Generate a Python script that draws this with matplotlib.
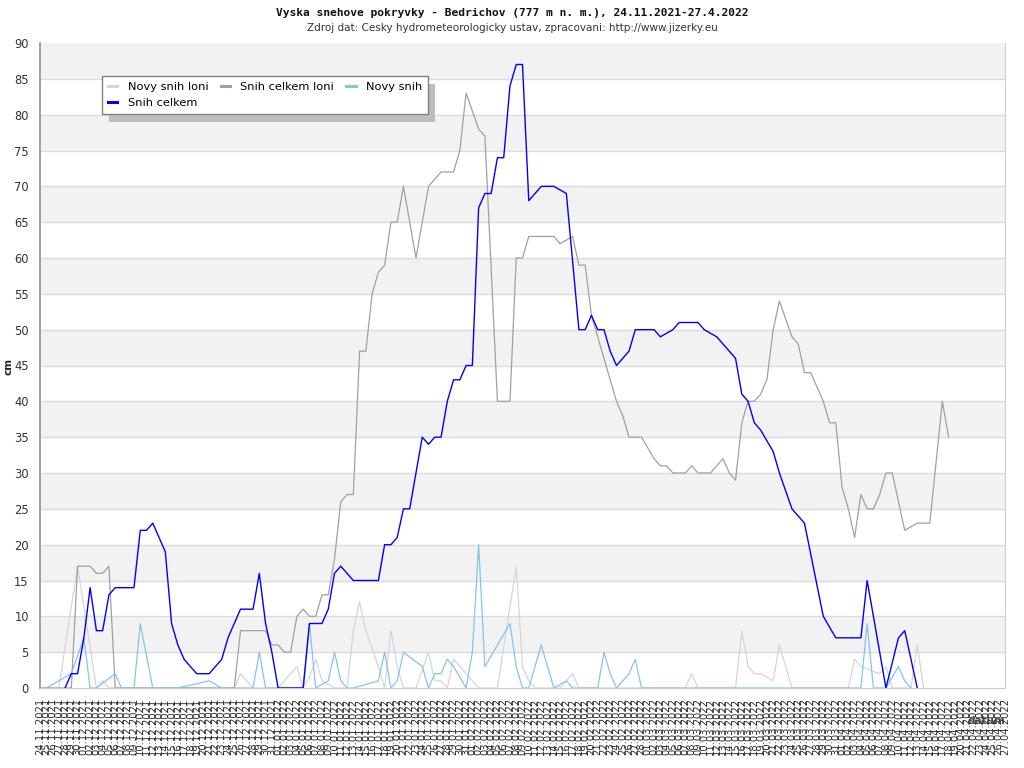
import matplotlib
matplotlib.use("Agg")
import matplotlib.pyplot as plt
from matplotlib.lines import Line2D
from matplotlib.patches import Rectangle
import pandas as pd

# ---------------- data (day index 0 = 24.11.2021) ----------------
start_date = "2021-11-24"
end_date = "2022-04-27"

snih_celkem_days = [4, 5, 6, 7, 8, 9, 10, 11, 12, 13, 14, 15, 16, 17, 18, 20, 21, 22, 23, 24,
                    25, 26, 27, 28, 29, 30, 31, 32, 33, 34, 35, 36, 37, 38, 39, 40, 41, 42, 43, 44,
                    45, 46, 47, 48, 49, 50, 51, 52, 53, 54, 55, 56, 57, 58, 59, 60, 61, 62, 63, 64,
                    65, 66, 67, 68, 69, 70, 71, 72, 73, 74, 75, 76, 77, 78, 79, 80, 81, 82, 83, 84,
                    86, 87, 88, 89, 90, 91, 92, 93, 94, 95, 96, 97, 98, 99, 100, 101, 102, 103, 104, 105,
                    106, 107, 108, 109, 110, 111, 112, 113, 114, 115, 116, 117, 118, 119, 120, 121, 122,
                    125, 126, 127, 128, 129, 130, 131, 132, 133, 134, 135, 137, 138, 140]
snih_celkem = [0, 2, 2, 7, 14, 8, 8, 13, 14, 14, 14, 14, 22, 22, 23, 19, 9, 6, 4, 3,
               2, 2, 2, 3, 4, 7, 9, 11, 11, 11, 16, 9, 5, 0, 0, 0, 0, 0, 9, 9,
               9, 11, 16, 17, 16, 15, 15, 15, 15, 15, 20, 20, 21, 25, 25, 30, 35, 34, 35, 35,
               40, 43, 43, 45, 45, 67, 69, 69, 74, 74, 84, 87, 87, 68, 69, 70, 70, 70, 69.5, 69,
               50, 50, 52, 50, 50, 47, 45, 46, 47, 50, 50, 50, 50, 49, 49.5, 50, 51, 51, 51, 51,
               50, 49.5, 49, 48, 47, 46, 41, 40, 37, 36, 34.5, 33, 30, 27.5, 25, 24, 23,
               10, 8.5, 7, 7, 7, 7, 7, 15, 10, 5, 0, 7, 8, 0]

novy_snih_days = [1, 5, 7, 8, 9, 12, 13, 15, 16, 18, 22, 27, 29, 34, 35, 36, 42, 43, 44, 45,
                  46, 47, 48, 49, 50, 54, 55, 56, 57, 58, 61, 62, 63, 64, 65, 66, 67, 68, 69, 70,
                  71, 75, 76, 77, 78, 79, 80, 81, 82, 83, 84, 85, 89, 90, 91, 92, 93, 94, 95, 96,
                  131, 132, 133, 135, 137, 138, 139]
novy_snih = [0, 2, 7, 0, 0, 2, 0, 0, 9, 0, 0, 1, 0, 0, 5, 0, 0, 9, 0, 0.5,
             1, 5, 1, 0, 0, 1, 5, 0, 1, 5, 3, 0, 2, 2, 4, 3, 1.5, 0, 5, 20,
             3, 9, 3, 0, 0, 3, 6, 3, 0, 0.5, 1, 0, 0, 5, 2, 0, 1, 2, 4, 0,
             0, 9, 0, 0, 3, 1, 0]

novy_snih_loni_days = [0, 3, 6, 9, 10, 11, 31, 32, 34, 38, 41, 42, 43, 44, 45, 46, 47, 49, 50, 51,
                       52, 53, 54, 55, 56, 57, 58, 60, 62, 63, 64, 65, 66, 67, 68, 69, 70, 73, 76, 77,
                       78, 79, 83, 84, 85, 86, 103, 104, 105, 111, 112, 113, 114, 115, 116, 117, 118, 119, 120,
                       129, 130, 131, 132, 133, 134, 135, 136, 139, 140, 141]
novy_snih_loni = [0, 0, 17, 0, 1, 0, 0, 2, 0, 0, 3, 0, 1.5, 4, 1, 0.5, 0, 0, 8, 12,
                  8, 5.5, 3, 0, 8, 3, 0, 0, 5, 1, 1, 0, 4, 3, 2, 1, 0, 0, 17, 3,
                  1, 0, 0, 1, 2, 0, 0, 2, 0, 0, 8, 3, 2, 2, 1.5, 1, 6, 3, 0,
                  0, 4, 3, 2.7, 2.3, 2, 3, 0, 0, 6, 0]

snih_celkem_loni_days = [0, 5, 6, 7, 8, 9, 10, 11, 12, 31, 32, 33, 34, 35, 36, 37, 38, 39, 40, 41,
                         42, 43, 44, 45, 46, 47, 48, 49, 50, 51, 52, 53, 54, 55, 56, 57, 58, 59, 60, 61,
                         62, 63, 64, 65, 66, 67, 68, 69, 70, 71, 73, 74, 75, 76, 77, 78, 79, 80, 81, 82,
                         83, 84, 85, 86, 87, 88, 89, 90, 91, 92, 93, 94, 95, 96, 97, 98, 99, 100, 101, 102,
                         103, 104, 105, 106, 107, 108, 109, 110, 111, 112, 113, 114, 115, 116, 117, 118, 119, 120, 121, 122,
                         123, 124, 125, 126, 127, 128, 129, 130, 131, 132, 133, 134, 135, 136, 137, 138, 139, 140, 141, 142,
                         144, 145]
snih_celkem_loni = [0, 0, 17, 17, 17, 16, 16, 17, 0, 0, 8, 8, 8, 8, 8, 6, 6, 5, 5, 10,
                    11, 10, 10, 13, 13, 18, 26, 27, 27, 47, 47, 55, 58, 59, 65, 65, 70, 65, 60, 65,
                    70, 71, 72, 72, 72, 75, 83, 80.5, 78, 77, 40, 40, 40, 60, 60, 63, 63, 63, 63, 63,
                    62, 62.5, 63, 59, 59, 52, 49, 46, 43, 40, 38, 35, 35, 35, 33.5, 32, 31, 31, 30, 30,
                    30, 31, 30, 30, 30, 31, 32, 30, 29, 37, 40, 40, 41, 43, 50, 54, 51.5, 49, 48, 44,
                    44, 42, 40, 37, 37, 28, 25, 21, 27, 25, 25, 27, 30, 30, 26, 22, 22.5, 23, 23, 23,
                    40, 35]

series_names = ["Novy snih loni", "Snih celkem loni", "Novy snih", "Snih celkem"]
series_colors = ["#d6d6d6", "#a0a0a0", "#86c3ee", "#0000ff"]

date_labels = [d.strftime("%d.%m.%Y") for d in pd.date_range(start_date, end_date, freq="D")]

# ---------------- figure ----------------
W, H = 1024, 768
fig = plt.figure(figsize=(W / 100, H / 100), dpi=100)
fig.patch.set_facecolor("white")
ax = fig.add_axes([40 / W, (H - 688) / H, 965 / W, 645 / H])

n_days = len(date_labels)
ax.set_xlim(0, n_days - 1)
ax.set_ylim(0, 90)

# alternating bands
for lo in range(5, 90, 10):
    ax.axhspan(lo, lo + 5, color="#f2f2f2", lw=0, zorder=0)
for yv in range(5, 90, 5):
    ax.axhline(yv, color="#dcdcdc", lw=1.0, zorder=1)

ax.plot(novy_snih_loni_days, novy_snih_loni, color=series_colors[0], lw=0.9, zorder=2)
ax.plot(snih_celkem_loni_days, snih_celkem_loni, color=series_colors[1], lw=0.9, zorder=3)
ax.plot(novy_snih_days, novy_snih, color=series_colors[2], lw=0.9, zorder=4)
ax.plot(snih_celkem_days, snih_celkem, color=series_colors[3], lw=1.0, zorder=5)

ax.set_yticks(range(0, 91, 5))
ax.set_yticklabels([str(v) for v in range(0, 91, 5)])
ax.set_xticks(range(n_days))
ax.set_xticklabels(date_labels, rotation=90, fontsize=7.2, va="top", ha="center")
ax.tick_params(axis="y", length=0, pad=8, labelsize=8.3, labelcolor="#333333")
ax.tick_params(axis="x", length=0, pad=7, labelcolor="#333333")

ax.spines["top"].set_visible(False)
ax.spines["left"].set_color("#999999")
ax.spines["left"].set_linewidth(1.3)
ax.spines["bottom"].set_color("#cccccc")
ax.spines["right"].set_color("#d0d0d0")

# titles
fig.text(512 / W, 1 - 13 / H, "Vyska snehove pokryvky - Bedrichov (777 m n. m.), 24.11.2021-27.4.2022",
         ha="center", va="center", fontsize=8.1, fontweight="bold", family="DejaVu Sans Mono", color="#111111")
fig.text(512 / W, 1 - 28 / H, "Zdroj dat: Cesky hydrometeorologicky ustav, zpracovani: http://www.jizerky.eu",
         ha="center", va="center", fontsize=7.5, color="#333333")

fig.text(9 / W, 1 - 366 / H, "cm", rotation=90, ha="center", va="center",
         fontsize=7.5, fontweight="bold", color="#222222")
fig.text(986 / W, 1 - 721 / H, "datum", ha="center", va="center",
         fontsize=7.5, fontweight="bold", color="#444444")

order = [0, 3, 1, 2]
handles = [Line2D([], [], color=series_colors[i], lw=2.2) for i in order]
labels = [series_names[i] for i in order]
leg = ax.legend(handles, labels, ncol=3, loc="upper left",
                bbox_to_anchor=((102 - 40) / 965, (688 - 76) / 645),
                fontsize=8.2, frameon=True, fancybox=False, framealpha=1,
                edgecolor="#808080", handlelength=0.8, handletextpad=0.9,
                columnspacing=1.1, borderpad=0.55, labelspacing=0.5, borderaxespad=0)
leg.get_frame().set_linewidth(1.0)
leg.set_zorder(10)

# legend shadow, offset down-right from the legend box
fig.canvas.draw()
bb = leg.get_window_extent()
shadow = Rectangle((bb.x0 + 7, bb.y0 - 8), bb.width, bb.height, transform=None,
                   facecolor="#bdbdbd", edgecolor="none", zorder=8, clip_on=False)
ax.add_patch(shadow)

fig.savefig("out.png", dpi=100)
